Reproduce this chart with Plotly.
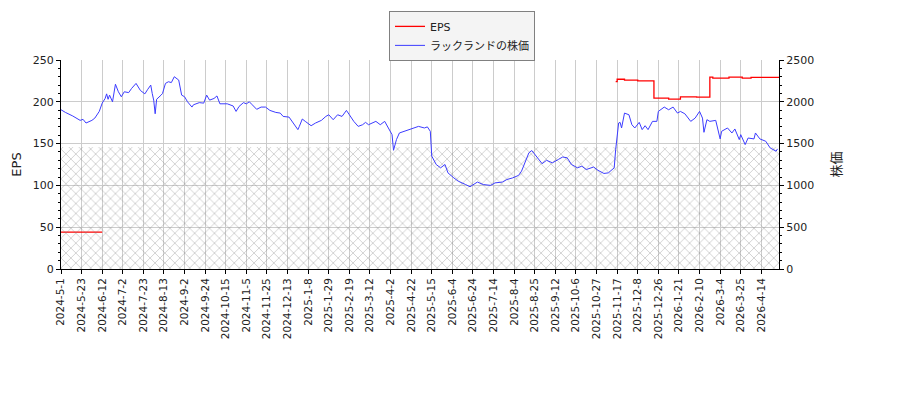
import plotly.graph_objects as go

# ============================================
# DATA
# ============================================
# x positions are trading-day numbers counted from 2024-5-1
tick_pos = [0, 14, 28, 42, 56, 70, 84, 98, 112, 126, 140, 154, 168, 182, 196, 210, 224,
            238, 252, 266, 280, 294, 308, 322, 336, 350, 364, 378, 392, 406, 420, 434,
            448, 462, 476]
tick_labels = ["2024-5-1", "2024-5-23", "2024-6-12", "2024-7-2", "2024-7-23", "2024-8-13",
               "2024-9-2", "2024-9-24", "2024-10-15", "2024-11-5", "2024-11-25",
               "2024-12-13", "2025-1-8", "2025-1-29", "2025-2-19", "2025-3-12", "2025-4-2",
               "2025-4-22", "2025-5-15", "2025-6-4", "2025-6-24", "2025-7-14", "2025-8-4",
               "2025-8-25", "2025-9-12", "2025-10-6", "2025-10-27", "2025-11-17",
               "2025-12-8", "2025-12-26", "2026-1-21", "2026-2-10", "2026-3-4",
               "2026-3-25", "2026-4-14"]

price_day = [0, 3, 8, 10, 13, 15, 17, 21, 23, 26, 28, 30, 31, 32, 33, 35, 37, 39, 41, 43,
             46, 48, 51, 54, 57, 59, 61, 62, 63, 64, 65, 68, 69, 71, 73, 75, 77, 80, 81, 82,
             84, 86, 89, 90, 94, 97, 99, 101, 104, 106, 108, 113, 117, 119, 121, 124, 126,
             128, 130, 133, 136, 139, 142, 146, 149, 151, 155, 157, 159, 161, 162, 164, 166,
             170, 173, 177, 180, 182, 185, 188, 191, 194, 196, 199, 202, 205, 207, 209, 214,
             217, 220, 223, 225, 226, 228, 230, 233, 236, 240, 243, 247, 249, 251, 252, 255,
             258, 261, 263, 267, 270, 275, 278, 283, 287, 292, 295, 300, 303, 307, 311, 313,
             316, 318, 320, 322, 325, 327, 330, 334, 338, 341, 344, 347, 351, 354, 357, 362,
             365, 369, 372, 375, 376, 377, 379, 380, 381, 383, 386, 388, 390, 393, 395, 397,
             399, 402, 405, 406, 410, 413, 416, 419, 421, 424, 428, 431, 434, 436, 437, 439,
             441, 445, 447, 448, 449, 453, 456, 458, 461, 462, 465, 467, 471, 472, 475, 479,
             482, 486, 487]
price = [1905, 1873, 1830, 1805, 1778, 1790, 1746, 1778, 1805, 1885, 1984, 2040, 2095, 2030,
         2080, 2000, 2210, 2120, 2060, 2120, 2110, 2160, 2220, 2135, 2095, 2150, 2200, 2100,
         2020, 1857, 2030, 2080, 2100, 2220, 2240, 2230, 2300, 2260, 2140, 2080, 2060, 2000,
         1937, 1964, 1990, 1984, 2080, 2020, 2040, 2070, 1976, 1976, 1950, 1885, 1944, 1990,
         1976, 2000, 1964, 1910, 1937, 1937, 1897, 1873, 1865, 1825, 1817, 1766, 1714, 1667,
         1706, 1794, 1766, 1714, 1746, 1778, 1825, 1845, 1786, 1845, 1825, 1897, 1845, 1766,
         1706, 1726, 1754, 1726, 1766, 1726, 1766, 1675, 1607, 1420, 1548, 1627, 1647, 1667,
         1687, 1706, 1687, 1700, 1647, 1350, 1250, 1210, 1250, 1150, 1090, 1050, 1010, 984,
         1040, 1010, 1000, 1030, 1040, 1070, 1090, 1120, 1170, 1290, 1390, 1417, 1370, 1310,
         1260, 1300, 1270, 1310, 1340, 1330, 1250, 1210, 1230, 1190, 1220, 1180, 1143, 1150,
         1200, 1210, 1429, 1746, 1754, 1687, 1865, 1845, 1726, 1687, 1754, 1667, 1714, 1667,
         1766, 1766, 1885, 1937, 1905, 1937, 1865, 1885, 1857, 1766, 1805, 1885, 1805, 1635,
         1786, 1766, 1778, 1647, 1556, 1647, 1687, 1627, 1675, 1548, 1607, 1488, 1567, 1556,
         1627, 1556, 1528, 1448, 1409, 1437]

eps_day = [0, 28, None, 377, 378, 383, 392, 403, 413, 421, 432, 441, 443, 454, 463, 469, 488]
eps = [44, 44, None, 224.2, 227, 226, 225, 204.4, 203.2, 206, 205.6, 229.4, 228.2, 229.4,
       228.4, 229.2, 229.2]

band_day = [0, 488]
band_level = [1460, 1460]

FONT = "DejaVu Sans, Noto Sans CJK JP"

# ============================================
# CHART
# ============================================
fig = go.Figure()

fig.add_trace(go.Scatter(
    x=band_day, y=band_level, yaxis="y2", mode="lines", fill="tozeroy",
    line=dict(width=0), fillcolor="rgba(0,0,0,0)",
    fillpattern=dict(shape="x", fgcolor="#7a7a7a", bgcolor="rgba(0,0,0,0)",
                     size=7, solidity=0.18),
    showlegend=False, hoverinfo="skip"))

fig.add_trace(go.Scatter(
    x=eps_day, y=eps, name="EPS", mode="lines", line_shape="hv",
    line=dict(color="#ff0000", width=1.3), connectgaps=False))

fig.add_trace(go.Scatter(
    x=price_day, y=price, name="ラックランドの株価", yaxis="y2", mode="lines",
    line=dict(color="#3c3cff", width=1)))

# the page puts the figure 8px in from the top left, so the margins allow for it
fig.update_layout(
    width=900, height=400,
    margin=dict(l=53, r=129, t=52, b=139, autoexpand=False),
    paper_bgcolor="white", plot_bgcolor="white",
    font=dict(family=FONT, size=11, color="#222222"),
    xaxis=dict(range=[0, 488], tickvals=tick_pos, ticktext=tick_labels, tickangle=-90,
               showgrid=True, gridcolor="#cccccc", gridwidth=1,
               showline=True, linecolor="black", linewidth=1,
               ticks="outside", ticklen=4, tickcolor="black",
               tickfont=dict(size=10.5), zeroline=False),
    yaxis=dict(range=[0, 250], dtick=50, title=dict(text="EPS", standoff=8),
               showgrid=True, gridcolor="#cccccc", gridwidth=1,
               showline=True, linecolor="black", linewidth=1, mirror=False,
               ticks="outside", ticklen=4, tickcolor="black", zeroline=False,
               minor=dict(dtick=10, ticks="outside", ticklen=2, tickcolor="black",
                          showgrid=False)),
    yaxis2=dict(range=[0, 2500], dtick=500, overlaying="y", side="right",
                title=dict(text="株価", standoff=18),
                showgrid=False, showline=True, linecolor="black", linewidth=1,
                ticks="outside", ticklen=4, tickcolor="black", zeroline=False,
                minor=dict(dtick=100, ticks="outside", ticklen=2, tickcolor="black",
                           showgrid=False)),
    legend=dict(x=0.5585, y=1.235, xanchor="center", yanchor="top",
                bgcolor="#f4f4f4", bordercolor="#808080", borderwidth=1,
                font=dict(size=11), tracegroupgap=0, itemwidth=30),
    showlegend=True,
)

fig.write_html("out.html")
